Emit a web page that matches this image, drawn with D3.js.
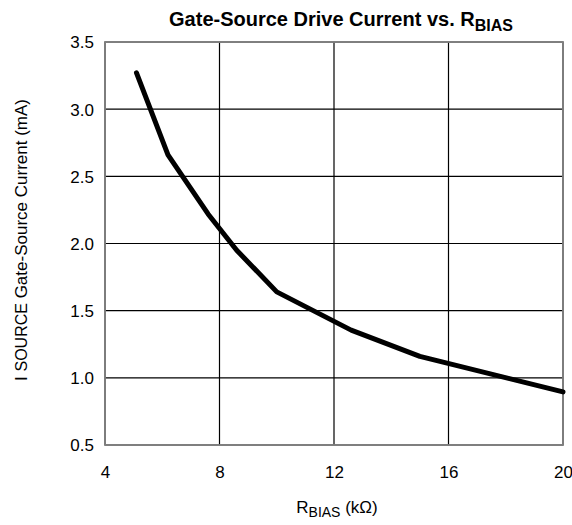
<!DOCTYPE html>
<html>
<head>
<meta charset="utf-8">
<script src="https://cdn.jsdelivr.net/npm/d3@7"></script>
<style>
    body { margin: 0; background: #fff; }
    svg { font-family: "Liberation Sans", Arial, sans-serif; }
</style>
</head>
<body>
<svg id="chart" width="572" height="525"></svg>
<script>
// Data
const rBias = [5.1, 6.2, 7.6, 8.6, 10.0, 12.6, 15.0, 20.0];
const iSource = [3.27, 2.66, 2.22, 1.95, 1.64, 1.355, 1.16, 0.895];
const xTicks = [4, 8, 12, 16, 20];
const yTicks = [0.5, 1.0, 1.5, 2.0, 2.5, 3.0, 3.5];

const svg = d3.select('#chart');
const margin = { left: 105, right: 9, top: 42, bottom: 80 };
const width = 572, height = 525;

const x = d3.scaleLinear().domain([4, 20]).range([margin.left, width - margin.right]);
const y = d3.scaleLinear().domain([0.5, 3.5]).range([height - margin.bottom, margin.top]);

// Grid lines
svg.append('g')
    .selectAll('line')
    .data(xTicks)
    .join('line')
    .attr('x1', d => x(d)).attr('x2', d => x(d))
    .attr('y1', y(0.5)).attr('y2', y(3.5))
    .attr('stroke', '#000').attr('stroke-width', 1.2);

svg.append('g')
    .selectAll('line')
    .data(yTicks)
    .join('line')
    .attr('x1', x(4)).attr('x2', x(20))
    .attr('y1', d => y(d)).attr('y2', d => y(d))
    .attr('stroke', '#000').attr('stroke-width', 1.2);

// Frame
svg.append('rect')
    .attr('x', x(4)).attr('y', y(3.5))
    .attr('width', x(20) - x(4)).attr('height', y(0.5) - y(3.5))
    .attr('fill', 'none').attr('stroke', '#808080').attr('stroke-width', 1.8);

// Axes (labels only)
const xAxis = svg.append('g')
    .attr('transform', `translate(0,${y(0.5) + 21})`)
    .call(d3.axisBottom(x).tickValues(xTicks).tickSize(0).tickFormat(d3.format('d')));
xAxis.select('.domain').remove();
xAxis.selectAll('text').attr('font-size', 17).attr('fill', '#000').attr('dy', null).attr('y', 12);

const yAxis = svg.append('g')
    .attr('transform', `translate(${x(4) - 11},0)`)
    .call(d3.axisLeft(y).tickValues(yTicks).tickSize(0).tickFormat(d3.format('.1f')));
yAxis.select('.domain').remove();
yAxis.selectAll('text').attr('font-size', 17).attr('fill', '#000').attr('x', 0).attr('dy', '0.35em');

// Curve
const line = d3.line()
    .x((d, i) => x(rBias[i]))
    .y(d => y(d));

svg.append('path')
    .datum(iSource)
    .attr('d', line)
    .attr('fill', 'none')
    .attr('stroke', '#000')
    .attr('stroke-width', 5)
    .attr('stroke-linejoin', 'round')
    .attr('stroke-linecap', 'round');

// Title
const title = svg.append('text')
    .attr('x', 341).attr('y', 26)
    .attr('text-anchor', 'middle')
    .attr('font-size', 20).attr('font-weight', 'bold');
title.append('tspan').text('Gate-Source Drive Current vs. R');
title.append('tspan').attr('font-size', 16).attr('dy', 5).text('BIAS');

// X label
const xLabel = svg.append('text')
    .attr('x', 337).attr('y', 513)
    .attr('text-anchor', 'middle')
    .attr('font-size', 17);
xLabel.append('tspan').text('R');
xLabel.append('tspan').attr('font-size', 14).attr('dy', 4).text('BIAS');
xLabel.append('tspan').attr('dy', -4).text(' (k\u03A9)');

// Y label
const yLabel = svg.append('text')
    .attr('transform', `translate(27,${240}) rotate(-90)`)
    .attr('text-anchor', 'middle')
    .attr('font-size', 17);
yLabel.append('tspan').text('I ');
yLabel.append('tspan').attr('font-size', 16).text('SOURCE');
yLabel.append('tspan').text(' Gate-Source Current (mA)');
</script>
</body>
</html>
